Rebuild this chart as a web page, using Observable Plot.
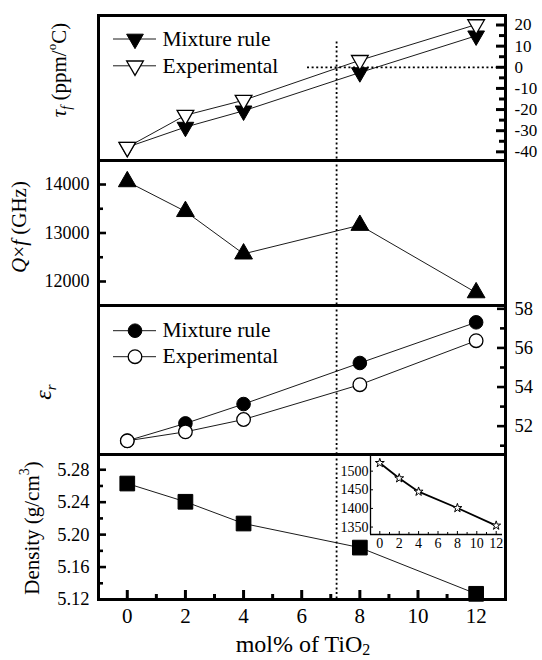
<!DOCTYPE html>
<html><head><meta charset="utf-8">
<script src="https://cdn.jsdelivr.net/npm/d3@7"></script>
<script src="https://cdn.jsdelivr.net/npm/@observablehq/plot@0.6"></script>
<style>
html,body{margin:0;padding:0;background:#fff;}
#chart{position:relative;width:542px;height:660px;overflow:hidden;background:#fff;font-family:"Liberation Serif","Times New Roman",serif;}
#chart svg{position:absolute;left:0;top:0;}
#chart text{font-family:"Liberation Serif","Times New Roman",serif;}
</style></head><body><div id="chart"></div>
<script>
// ---------- data ----------
const molTiO2 = [0, 2, 4, 8, 12];
const tauMixture = [-37.8, -28.3, -20.6, -2.5, 14.9];
const tauExperimental = [-37.8, -22.7, -15.6, 3.3, 20.2];
const qf = [14060, 13445, 12570, 13160, 11770];
const epsMixture = [51.25, 52.14, 53.13, 55.23, 57.31];
const epsExperimental = [51.25, 51.71, 52.34, 54.12, 56.37];
const density = [5.263, 5.2405, 5.2137, 5.184, 5.127];
const insetValues = [1522, 1481, 1445, 1401, 1354];

const tauTicks = [20, 10, 0, -10, -20, -30, -40];
const tauMinor = [15, 5, -5, -15, -25, -35];
const qfTicks = [14000, 13000, 12000];
const qfMinor = [13500, 12500];
const epsTicks = [58, 56, 54, 52];
const epsMinor = [57, 55, 53, 51];
const densTicks = [5.28, 5.24, 5.20, 5.16, 5.12];
const densMinor = [5.26, 5.22, 5.18, 5.14];
const xTicks = [0, 2, 4, 6, 8, 10, 12];
const xMinor = [1, 3, 5, 7, 9, 11];
const insetYTicks = [1500, 1450, 1400, 1350];
const insetXTicks = [0, 2, 4, 6, 8, 10, 12];
const insetXMinor = [1, 3, 5, 7, 9, 11];

const zeroTauX = 7.2;       // composition where tau_f = 0 (vertical dotted line)
const dottedTopTau = 12;    // tau value where that line starts
const zeroLineStartX = 6.2; // start of the horizontal tau = 0 dotted line

const legendLabels = ["Mixture rule", "Experimental"];

// ---------- layout ----------
const W = 542, H = 660;
const frameL = 98, frameR = 505, FW = frameR - frameL;
const xDomain = [-0.99, 13.01];
const FONT = '"Liberation Serif", "Times New Roman", serif';
const dash = {stroke: "black", strokeWidth: 1.8, strokeDasharray: "2,2.6"};

const rows = molTiO2.map((x, i) => ({
  x, tauMix: tauMixture[i], tauExp: tauExperimental[i], qf: qf[i],
  epsMix: epsMixture[i], epsExp: epsExperimental[i], dens: density[i], inset: insetValues[i]
}));

function panel(top, bottom, yDomain, marks) {
  return Plot.plot({
    width: W, height: H,
    marginTop: top, marginBottom: H - bottom, marginLeft: frameL, marginRight: W - frameR,
    x: {domain: xDomain, axis: null},
    y: {domain: yDomain, axis: null},
    style: {background: "transparent", fontFamily: FONT, overflow: "visible"},
    marks
  });
}
function yTicksLeft(vals, len, sw) {
  return Plot.ruleY(vals, {y: d => d, insetRight: FW - len, stroke: "black", strokeWidth: sw});
}
function yTicksRight(vals, len, sw) {
  return Plot.ruleY(vals, {y: d => d, insetLeft: FW - len, stroke: "black", strokeWidth: sw});
}
function yLabelsLeft(vals, fmt, size) {
  return Plot.text(vals, {y: d => d, text: fmt, frameAnchor: "left", dx: -9, textAnchor: "end", fontSize: size, fill: "black"});
}
function yLabelsRight(vals, fmt, size) {
  return Plot.text(vals, {y: d => d, text: fmt, frameAnchor: "right", dx: 9, textAnchor: "start", fontSize: size, fill: "black"});
}
const frame = Plot.frame({stroke: "black", strokeWidth: 3});
const thin = {stroke: "black", strokeWidth: 0.9};

const chart = document.getElementById("chart");

// Panel 1: tau_f
const p1 = panel(15, 160, [-44.1, 24.5], [
  Plot.ruleX([zeroTauX], {x: d => d, y1: dottedTopTau, y2: -44.1, ...dash}),
  Plot.ruleY([0], {y: d => d, x1: zeroLineStartX, x2: xDomain[1], ...dash}),
  Plot.line(rows, {x: "x", y: "tauMix", ...thin}),
  Plot.line(rows, {x: "x", y: "tauExp", ...thin}),
  Plot.dot(rows, {x: "x", y: "tauMix", symbol: "triangle", rotate: 180, r: 6.2, fill: "black", stroke: "black", strokeWidth: 1}),
  Plot.dot(rows, {x: "x", y: "tauExp", symbol: "triangle", rotate: 180, r: 6.2, fill: "white", stroke: "black", strokeWidth: 1.3}),
  yTicksRight(tauTicks, 9, 3),
  yTicksRight(tauMinor, 6, 3),
  yLabelsRight(tauTicks, d => String(d), 17),
  frame
]);

// Panel 2: Q x f
const p2 = panel(160, 305, [11505, 14495], [
  Plot.ruleX([zeroTauX], {x: d => d, ...dash}),
  Plot.line(rows, {x: "x", y: "qf", ...thin}),
  Plot.dot(rows, {x: "x", y: "qf", symbol: "triangle", r: 6.6, fill: "black", stroke: "black", strokeWidth: 1}),
  yTicksLeft(qfTicks, 8, 2.6),
  yTicksLeft(qfMinor, 5, 2.6),
  yLabelsLeft(qfTicks, d => String(d), 18),
  frame
]);

// Panel 3: epsilon_r
const p3 = panel(305, 454, [50.55, 58.17], [
  Plot.ruleX([zeroTauX], {x: d => d, ...dash}),
  Plot.line(rows, {x: "x", y: "epsMix", ...thin}),
  Plot.line(rows, {x: "x", y: "epsExp", ...thin}),
  Plot.dot(rows, {x: "x", y: "epsMix", r: 6.8, fill: "black", stroke: "black", strokeWidth: 1}),
  Plot.dot(rows, {x: "x", y: "epsExp", r: 6.8, fill: "white", stroke: "black", strokeWidth: 1.3}),
  yTicksRight(epsTicks, 8, 2.6),
  yTicksRight(epsMinor, 5, 2.6),
  yLabelsRight(epsTicks, d => String(d), 18.5),
  frame
]);

// Panel 4: density
const p4 = panel(454, 599, [5.12, 5.2988], [
  Plot.ruleX([zeroTauX], {x: d => d, ...dash}),
  Plot.line(rows, {x: "x", y: "dens", ...thin}),
  Plot.dot(rows, {x: "x", y: "dens", symbol: "square", r: 8.3, fill: "black", stroke: "black", strokeWidth: 1}),
  yTicksLeft(densTicks, 8, 2.6),
  yTicksLeft(densMinor, 5, 2.6),
  yLabelsLeft(densTicks, d => d.toFixed(2), 18.5),
  Plot.ruleX(xTicks, {x: d => d, insetTop: 145 - 9, stroke: "black", strokeWidth: 3}),
  Plot.ruleX(xMinor, {x: d => d, insetTop: 145 - 5, stroke: "black", strokeWidth: 3}),
  Plot.text(xTicks, {x: d => d, text: d => String(d), frameAnchor: "bottom", dy: 17, lineAnchor: "middle", fontSize: 21, fill: "black"}),
  frame
]);

// Inset
const insetX = [-0.96, 12.65], insetY = [1330, 1542];
const IW = 502 - 370, IH = 534 - 455;
const p5 = Plot.plot({
  width: W, height: H,
  marginTop: 455, marginBottom: H - 534, marginLeft: 370, marginRight: W - 502,
  x: {domain: insetX, axis: null},
  y: {domain: insetY, axis: null},
  style: {background: "transparent", fontFamily: FONT, overflow: "visible"},
  marks: [
    Plot.ruleX([insetX[0]], {x: d => d, stroke: "black", strokeWidth: 1.3}),
    Plot.ruleY([insetY[0]], {y: d => d, stroke: "black", strokeWidth: 1.3}),
    Plot.ruleY(insetYTicks, {y: d => d, insetRight: IW - 3, stroke: "black", strokeWidth: 1}),
    Plot.ruleX(insetXTicks, {x: d => d, insetTop: IH - 3, stroke: "black", strokeWidth: 1}),
    Plot.ruleX(insetXMinor, {x: d => d, insetTop: IH - 2, stroke: "black", strokeWidth: 1}),
    Plot.text(insetYTicks, {y: d => d, text: d => String(d), frameAnchor: "left", dx: -2, textAnchor: "end", fontSize: 14, fill: "black"}),
    Plot.text(insetXTicks, {x: d => d, text: d => String(d), frameAnchor: "bottom", dy: 9, lineAnchor: "middle", fontSize: 14, fill: "black"}),
    Plot.line(rows, {x: "x", y: "inset", stroke: "black", strokeWidth: 1.8}),
    Plot.dot(rows, {x: "x", y: "inset", symbol: "star", r: 2.8, fill: "white", stroke: "black", strokeWidth: 1})
  ]
});

[p1, p2, p3, p4, p5].forEach(p => chart.appendChild(p));

// ---------- overlay: legends and axis titles ----------
const ov = d3.select(chart).append("svg").attr("width", W).attr("height", H)
  .attr("font-family", FONT).style("font-family", FONT).style("background", "transparent");

function legendRow(y, type, rot, filled, label, r, base) {
  ov.append("line").attr("x1", 113).attr("x2", 156).attr("y1", y).attr("y2", y)
    .attr("stroke", "black").attr("stroke-width", 0.9);
  ov.append("path").attr("d", d3.symbol(type, Math.PI * r * r)())
    .attr("transform", `translate(135,${y}) rotate(${rot})`)
    .attr("fill", filled ? "black" : "white").attr("stroke", "black").attr("stroke-width", filled ? 1 : 1.3);
  ov.append("text").attr("x", 162.5).attr("y", y + base).attr("font-size", 21.5).attr("fill", "black").text(label);
}
legendRow(39, d3.symbolTriangle, 180, true, legendLabels[0], 6.2, 7);
legendRow(65.8, d3.symbolTriangle, 180, false, legendLabels[1], 6.2, 7);
legendRow(330.7, d3.symbolCircle, 0, true, legendLabels[0], 6.8, 6);
legendRow(356.7, d3.symbolCircle, 0, false, legendLabels[1], 6.8, 6);

function vTitle(x, y, size, build) {
  const t = ov.append("text").attr("transform", `translate(${x},${y}) rotate(-90)`)
    .attr("text-anchor", "middle").attr("dominant-baseline", "central")
    .attr("font-size", size).attr("fill", "black");
  build(t);
}
vTitle(59, 70, 21, t => {
  t.append("tspan").attr("font-style", "italic").text("τ");
  t.append("tspan").attr("font-style", "italic").attr("font-size", 14).attr("baseline-shift", "sub").text("f");
  t.append("tspan").text(" (ppm/");
  t.append("tspan").attr("font-size", 13).attr("baseline-shift", "super").text("o");
  t.append("tspan").text("C)");
});
vTitle(19, 227, 21, t => {
  t.append("tspan").attr("font-style", "italic").text("Q");
  t.append("tspan").text("×");
  t.append("tspan").attr("font-style", "italic").text("f");
  t.append("tspan").text(" (GHz)");
});
vTitle(43, 392, 24, t => {
  t.append("tspan").attr("font-style", "italic").text("ε");
  t.append("tspan").attr("font-style", "italic").attr("font-size", 15).attr("baseline-shift", "sub").text("r");
});
vTitle(32, 528, 21, t => {
  t.append("tspan").text("Density  (g/cm");
  t.append("tspan").attr("font-size", 14).attr("baseline-shift", "super").text("3");
  t.append("tspan").text(")");
});
const xl = ov.append("text").attr("x", 303).attr("y", 652).attr("text-anchor", "middle")
  .attr("font-size", 24).attr("fill", "black");
xl.append("tspan").text("mol% of TiO");
xl.append("tspan").attr("font-size", 16).attr("baseline-shift", "-3").text("2");
</script>
</body></html>
